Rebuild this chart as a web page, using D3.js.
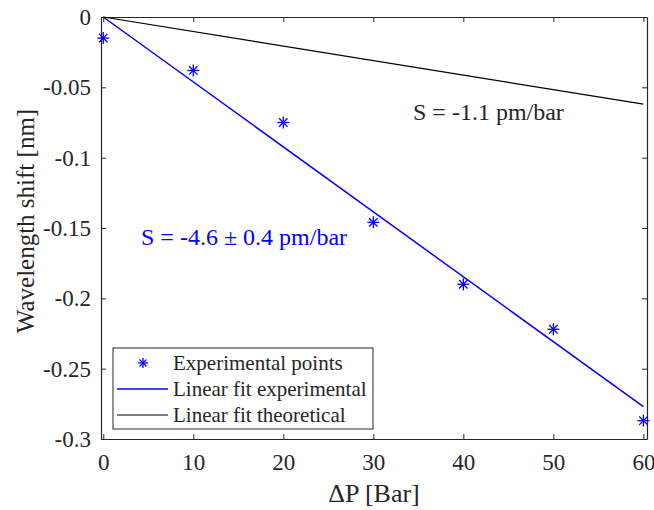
<!DOCTYPE html>
<html><head><meta charset="utf-8">
<script src="https://cdn.jsdelivr.net/npm/d3@7"></script>
<style>body{margin:0;background:#fff}svg{display:block}text{font-family:"Liberation Serif","Times New Roman",serif;fill:#262626}</style>
</head><body><svg id="c" width="654" height="510"></svg>
<script>
const pressure = [0, 10, 20, 30, 40, 50, 60];
const shiftExp = [-0.015, -0.038, -0.075, -0.146, -0.19, -0.222, -0.287];
const fitExpX = [0, 60];
const fitExpY = [0, -0.277];
const fitTheoX = [0, 60];
const fitTheoY = [0, -0.062];
const xTicks = [0, 10, 20, 30, 40, 50, 60];
const yTicks = [0, -0.05, -0.1, -0.15, -0.2, -0.25, -0.3];
const legendLabels = ["Experimental points", "Linear fit experimental", "Linear fit theoretical"];

const svg = d3.select("#c");
const L = 101, R = 647, T = 17, B = 439;
const x = d3.scaleLinear().domain([-0.25, 60.4]).range([L, R]);
const y = d3.scaleLinear().domain([-0.3, 0]).range([B, T]);
const axisCol = "#262626";

// axes
const xa = svg.append("g").attr("transform", `translate(0,${B})`)
  .call(d3.axisBottom(x).tickValues(xTicks).tickSizeInner(-5).tickSizeOuter(0).tickPadding(15).tickFormat(d3.format("d")));
const ya = svg.append("g").attr("transform", `translate(${L},0)`)
  .call(d3.axisLeft(y).tickValues(yTicks).tickSizeInner(-5).tickSizeOuter(0).tickPadding(10).tickFormat(d => d === 0 ? "0" : String(d)));
const xt = svg.append("g").attr("transform", `translate(0,${T})`)
  .call(d3.axisTop(x).tickValues(xTicks).tickSizeInner(-5).tickSizeOuter(0).tickFormat(""));
const yr = svg.append("g").attr("transform", `translate(${R},0)`)
  .call(d3.axisRight(y).tickValues(yTicks).tickSizeInner(-5).tickSizeOuter(0).tickFormat(""));
[xa, ya, xt, yr].forEach(g => {
  g.select(".domain").attr("stroke", axisCol).attr("stroke-width", 1.2);
  g.selectAll(".tick line").attr("stroke", axisCol);
  g.selectAll(".tick text").style("font-size", "23px").attr("fill", axisCol);
});

// lines
const line = d3.line().x(d => x(d[0])).y(d => y(d[1]));
svg.append("path").datum(fitTheoX.map((v, i) => [v, fitTheoY[i]]))
  .attr("d", line).attr("stroke", "#000").attr("stroke-width", 1.2).attr("fill", "none");
svg.append("path").datum(fitExpX.map((v, i) => [v, fitExpY[i]]))
  .attr("d", line).attr("stroke", "#0000ff").attr("stroke-width", 1.5).attr("fill", "none");

// asterisk marker
function star(g, cx, cy, r) {
  const s = g.append("g").attr("transform", `translate(${cx},${cy})`).attr("stroke", "#0000ff").attr("stroke-width", 1.3);
  s.append("line").attr("x1", -r).attr("x2", r).attr("y1", 0).attr("y2", 0);
  s.append("line").attr("x1", 0).attr("x2", 0).attr("y1", -r).attr("y2", r);
  const d = r * 0.7;
  s.append("line").attr("x1", -d).attr("x2", d).attr("y1", -d).attr("y2", d);
  s.append("line").attr("x1", -d).attr("x2", d).attr("y1", d).attr("y2", -d);
}
const pts = svg.append("g");
pressure.forEach((p, i) => star(pts, x(p), y(shiftExp[i]), 6));

// annotations
svg.append("text").attr("x", 413).attr("y", 120).style("font-size", "24px").text("S = -1.1 pm/bar");
svg.append("text").attr("x", 141).attr("y", 245).style("font-size", "24px").style("fill", "#0000ff").text("S = -4.6 \u00b1 0.4 pm/bar");

// labels
svg.append("text").attr("x", 374).attr("y", 502).attr("text-anchor", "middle").style("font-size", "26px").text("\u0394P [Bar]");
svg.append("text").attr("transform", `translate(34,221) rotate(-90)`).attr("text-anchor", "middle").style("font-size", "25px").text("Wavelength shift [nm]");

// legend
const lg = svg.append("g");
lg.append("rect").attr("x", 113).attr("y", 348).attr("width", 260).attr("height", 81)
  .attr("fill", "#fff").attr("stroke", axisCol).attr("stroke-width", 1);
const rowsY = [363, 389, 415];
star(lg, 143, rowsY[0], 5);
lg.append("line").attr("x1", 117).attr("x2", 168).attr("y1", rowsY[1]).attr("y2", rowsY[1]).attr("stroke", "#0000ff").attr("stroke-width", 1.5);
lg.append("line").attr("x1", 117).attr("x2", 168).attr("y1", rowsY[2]).attr("y2", rowsY[2]).attr("stroke", "#000").attr("stroke-width", 1.2);
legendLabels.forEach((t, i) => {
  lg.append("text").attr("x", 173).attr("y", rowsY[i]).attr("dy", "0.35em").style("font-size", "21px").text(t);
});
</script></body></html>
